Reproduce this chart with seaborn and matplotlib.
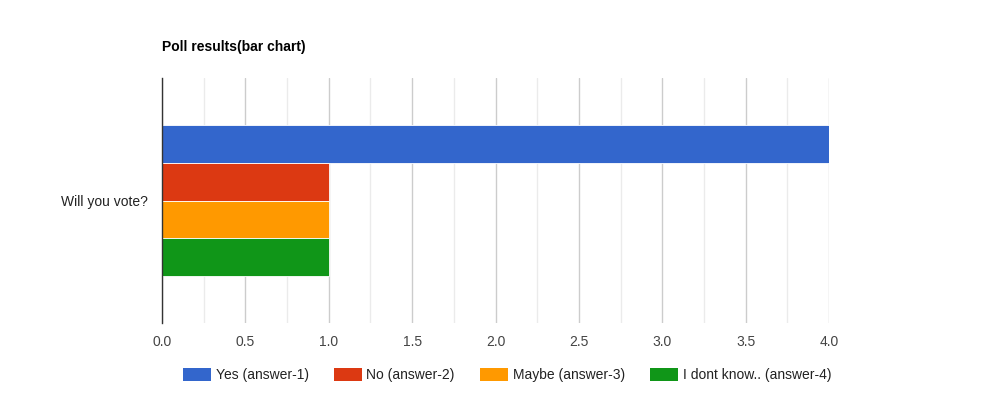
import numpy as np
import pandas as pd
import matplotlib
matplotlib.use('Agg')
import matplotlib.pyplot as plt
import seaborn as sns
from matplotlib.ticker import MultipleLocator
from matplotlib.patches import Patch

# data
question = ['Will you vote?']
answers = ['Yes (answer-1)', 'No (answer-2)', 'Maybe (answer-3)', 'I dont know.. (answer-4)']
votes = [4, 1, 1, 1]
colors = ['#3366cc', '#dc3912', '#ff9900', '#109618']

df = pd.DataFrame({'question': question * len(answers), 'answer': answers, 'votes': votes})

sns.set_style('white')
plt.rcParams['font.family'] = ['Liberation Sans', 'DejaVu Sans']

fig = plt.figure(figsize=(9.84, 4.12), dpi=100)
ax = fig.add_axes([162 / 984, 1 - 323 / 412, (829 - 162) / 984, (323 - 78) / 412])

sns.barplot(data=df, y='question', x='votes', hue='answer', palette=colors,
            saturation=1, orient='h', width=0.62, gap=0, edgecolor='white',
            linewidth=0.6, legend=False, ax=ax, zorder=3)

ax.set_xlim(0, 4)
ax.set_ylim(0.5, -0.5)
ax.xaxis.set_major_locator(MultipleLocator(0.5))
ax.xaxis.set_minor_locator(MultipleLocator(0.25))
ax.grid(which='major', axis='x', color='#cccccc', linewidth=1, zorder=0)
ax.grid(which='minor', axis='x', color='#ebebeb', linewidth=1, zorder=0)
ax.set_axisbelow(True)
ax.set_xticks(np.arange(0, 4.01, 0.5))
ax.set_xticklabels([f'{v:.1f}' for v in np.arange(0, 4.01, 0.5)])
ax.tick_params(axis='both', which='both', length=0, labelsize=10, labelcolor='#444444')
ax.tick_params(axis='x', pad=9)
ax.tick_params(axis='y', pad=10, labelcolor='#222222')
ax.set_xlabel('')
ax.set_ylabel('')
for s in ['top', 'right', 'bottom']:
    ax.spines[s].set_visible(False)
ax.spines['left'].set_color('#333333')
ax.spines['left'].set_linewidth(1)
ax.spines['left'].set_zorder(5)

fig.text(162 / 984, 1 - 47 / 412, 'Poll results(bar chart)', fontsize=10,
         fontweight='bold', color='#000000', va='center', ha='left')

handles = [Patch(facecolor=c, edgecolor='none') for c in colors]
fig.legend(handles, answers, loc='center', bbox_to_anchor=(507 / 984, 1 - 375 / 412),
           ncol=4, frameon=False, fontsize=10, handlelength=2.0, handleheight=1.15,
           handletextpad=0.36, columnspacing=1.8, labelcolor='#222222')

fig.savefig('out.png', dpi=100)
